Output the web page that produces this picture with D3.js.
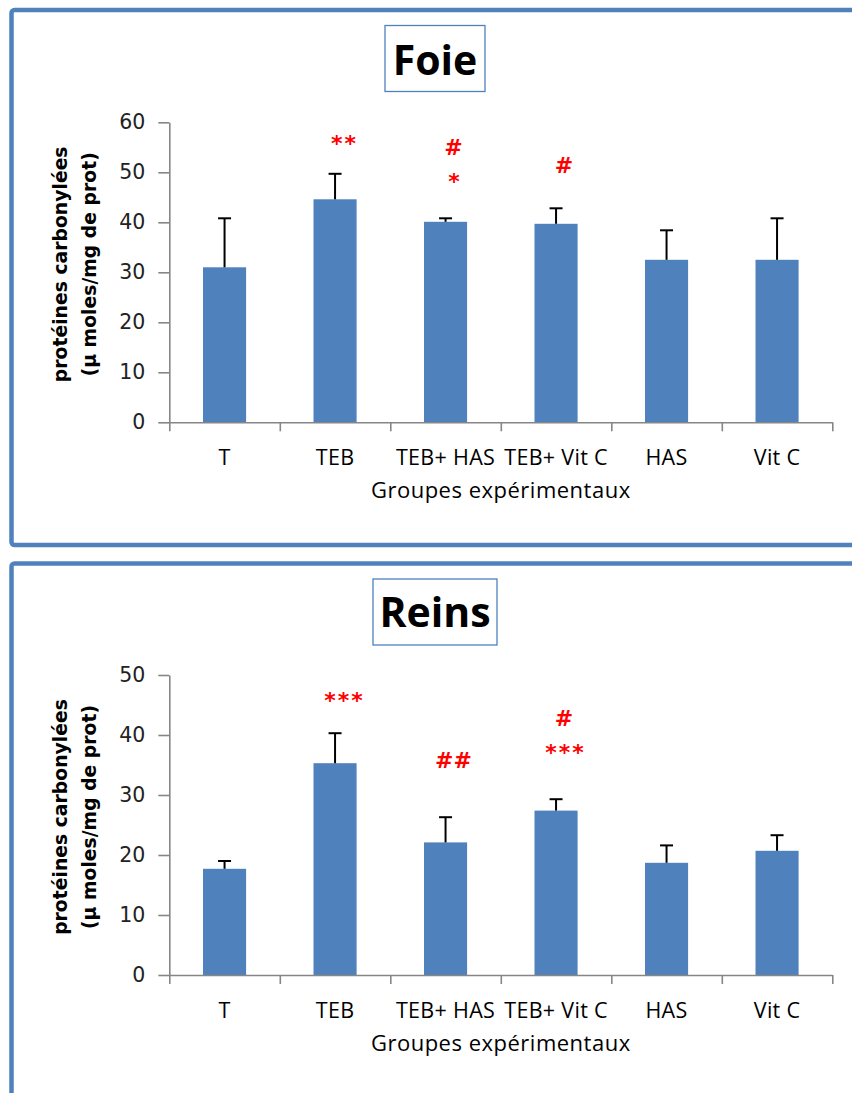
<!DOCTYPE html>
<html>
<head>
<meta charset="utf-8">
<script src="https://cdn.jsdelivr.net/npm/d3@7"></script>
<style>
  html, body { margin: 0; padding: 0; background: #fff; }
  svg { display: block; }
</style>
</head>
<body>
<svg id="chart" width="852" height="1093"></svg>
<script>
// Experimental groups shared by both organs
const categories = ["T", "TEB", "TEB+ HAS", "TEB+ Vit C", "HAS", "Vit C"];

// Liver (Foie): carbonylated proteins, mean and SEM
const foieMeans  = [31.0, 44.6, 40.1, 39.7, 32.5, 32.5];
const foieErrors = [9.8, 5.1, 0.7, 3.1, 5.9, 8.3];
const foieTicks  = [0, 10, 20, 30, 40, 50, 60];
// significance marks: group, symbol, level (in axis units)
const foieMarks  = [
  { group: "TEB",        text: "**", level: 56.7 },
  { group: "TEB+ HAS",   text: "#",  level: 55.1 },
  { group: "TEB+ HAS",   text: "*",  level: 49.1 },
  { group: "TEB+ Vit C", text: "#",  level: 51.5 }
];

// Kidneys (Reins)
const reinsMeans  = [17.7, 35.3, 22.1, 27.4, 18.7, 20.7];
const reinsErrors = [1.3, 5.0, 4.2, 1.9, 2.9, 2.6];
const reinsTicks  = [0, 10, 20, 30, 40, 50];
const reinsMarks  = [
  { group: "TEB",        text: "***", level: 46.5 },
  { group: "TEB+ HAS",   text: "##",  level: 35.8 },
  { group: "TEB+ Vit C", text: "#",   level: 42.8 },
  { group: "TEB+ Vit C", text: "***", level: 37.8 }
];

const yTitle1 = "protéines carbonylées";
const yTitle2 = "(µ moles/mg de prot)";
const xTitle  = "Groupes expérimentaux";

const svg = d3.select("#chart");
const BLUE = "#4F81BD";
const AXIS = "#868686";

function drawPanel(cfg) {
  const g = svg.append("g");

  // outer frame
  g.append("rect")
    .attr("x", 11.5).attr("y", cfg.frameTop)
    .attr("width", 900).attr("height", cfg.frameHeight)
    .attr("rx", 3).attr("ry", 3)
    .attr("fill", "none").attr("stroke", BLUE).attr("stroke-width", 4.5);

  // title box
  g.append("rect")
    .attr("x", 435 - cfg.boxWidth / 2).attr("y", cfg.boxTop)
    .attr("width", cfg.boxWidth).attr("height", 66)
    .attr("fill", "#fff").attr("stroke", BLUE).attr("stroke-width", 1.3);
  g.append("text")
    .attr("x", 435).attr("y", cfg.titleBaseline)
    .attr("text-anchor", "middle")
    .attr("font-family", "'Open Sans', sans-serif")
    .attr("font-weight", "bold")
    .attr("font-size", 41)
    .attr("fill", "#000")
    .text(cfg.title);

  const x = d3.scaleBand()
    .domain(categories)
    .range([169.3, 832.3])
    .paddingInner(0.61)
    .paddingOuter(0.305);

  const y = d3.scaleLinear()
    .domain([0, cfg.ticks[cfg.ticks.length - 1]])
    .range([cfg.plotBottom, cfg.plotTop]);

  // bars
  g.selectAll("rect.bar")
    .data(cfg.means)
    .join("rect")
    .attr("class", "bar")
    .attr("x", (d, i) => x(categories[i]))
    .attr("y", d => y(d))
    .attr("width", x.bandwidth())
    .attr("height", d => y(0) - y(d))
    .attr("fill", BLUE);

  // upper error bars
  const eb = g.selectAll("g.err")
    .data(cfg.means.map((m, i) => ({ m, e: cfg.errors[i], c: categories[i] })))
    .join("g").attr("class", "err")
    .attr("stroke", "#000").attr("stroke-width", 2);
  eb.append("line")
    .attr("x1", d => x(d.c) + x.bandwidth() / 2)
    .attr("x2", d => x(d.c) + x.bandwidth() / 2)
    .attr("y1", d => y(d.m))
    .attr("y2", d => y(d.m + d.e));
  eb.append("line")
    .attr("x1", d => x(d.c) + x.bandwidth() / 2 - 6.5)
    .attr("x2", d => x(d.c) + x.bandwidth() / 2 + 6.5)
    .attr("y1", d => y(d.m + d.e))
    .attr("y2", d => y(d.m + d.e));

  // y axis
  const yAxis = g.append("g")
    .attr("transform", "translate(169.3,0)")
    .call(d3.axisLeft(y).tickValues(cfg.ticks).tickSize(11).tickSizeOuter(0).tickPadding(13).tickFormat(d3.format("d")));
  yAxis.select(".domain").attr("stroke", AXIS).attr("stroke-width", 1.6);
  yAxis.selectAll(".tick line").attr("stroke", AXIS).attr("stroke-width", 1.6);
  yAxis.selectAll(".tick text")
    .attr("font-family", "'DejaVu Sans', sans-serif")
    .attr("font-size", 20.5)
    .attr("fill", "#222");

  // x axis with ticks at group boundaries
  const xEdge = d3.scaleLinear().domain([0, categories.length]).range(x.range());
  const xAxis = g.append("g")
    .attr("transform", `translate(0,${cfg.plotBottom})`)
    .call(d3.axisBottom(xEdge).ticks(categories.length).tickSize(9).tickSizeOuter(0).tickFormat(""));
  xAxis.select(".domain").attr("stroke", AXIS).attr("stroke-width", 1.6);
  xAxis.selectAll(".tick line").attr("stroke", AXIS).attr("stroke-width", 1.6);

  // group labels
  g.selectAll("text.cat")
    .data(categories)
    .join("text")
    .attr("class", "cat")
    .attr("x", d => x(d) + x.bandwidth() / 2)
    .attr("y", cfg.plotBottom + 43)
    .attr("text-anchor", "middle")
    .attr("font-family", "'Open Sans', sans-serif")
    .attr("font-size", 21.5)
    .attr("letter-spacing", 0.3)
    .attr("fill", "#000")
    .text(d => d);

  g.append("text")
    .attr("x", 500.8).attr("y", cfg.plotBottom + 76)
    .attr("text-anchor", "middle")
    .attr("font-family", "'Open Sans', sans-serif")
    .attr("font-size", 22)
    .attr("letter-spacing", 0.5)
    .attr("fill", "#000")
    .text(xTitle);

  // y axis title (two lines)
  const cy = (cfg.plotTop + cfg.plotBottom) / 2 - 8;
  [[yTitle1, 60], [yTitle2, 89]].forEach(([t, cx]) => {
    g.append("text")
      .attr("transform", `translate(${cx},${cy}) rotate(-90)`)
      .attr("text-anchor", "middle")
      .attr("dominant-baseline", "central")
      .attr("font-family", "'DejaVu Sans', sans-serif")
      .attr("font-weight", "bold")
      .attr("font-size", 18.8)
      .attr("fill", "#000")
      .text(t);
  });

  // significance marks
  g.selectAll("text.mark")
    .data(cfg.marks)
    .join("text")
    .attr("class", "mark")
    .attr("x", d => x(d.group) + x.bandwidth() / 2 + 8 + (d.text[0] === "*" ? 1.5 : 0))
    .attr("y", d => y(d.level) + (d.text[0] === "*" ? 12 : 8))
    .attr("text-anchor", "middle")
    .attr("font-family", "'DejaVu Sans', sans-serif")
    .attr("font-weight", "bold")
    .attr("font-size", 22)
    .attr("letter-spacing", d => d.text[0] === "*" ? 2 : 0)
    .attr("fill", "#FF0000")
    .text(d => d.text);
}

drawPanel({
  title: "Foie", frameTop: 10, frameHeight: 535,
  boxTop: 25.5, boxWidth: 100, titleBaseline: 75,
  plotTop: 122.3, plotBottom: 422.3,
  means: foieMeans, errors: foieErrors, ticks: foieTicks, marks: foieMarks
});

drawPanel({
  title: "Reins", frameTop: 563.5, frameHeight: 600,
  boxTop: 579, boxWidth: 124, titleBaseline: 627,
  plotTop: 675, plotBottom: 975,
  means: reinsMeans, errors: reinsErrors, ticks: reinsTicks, marks: reinsMarks
});
</script>
</body>
</html>
